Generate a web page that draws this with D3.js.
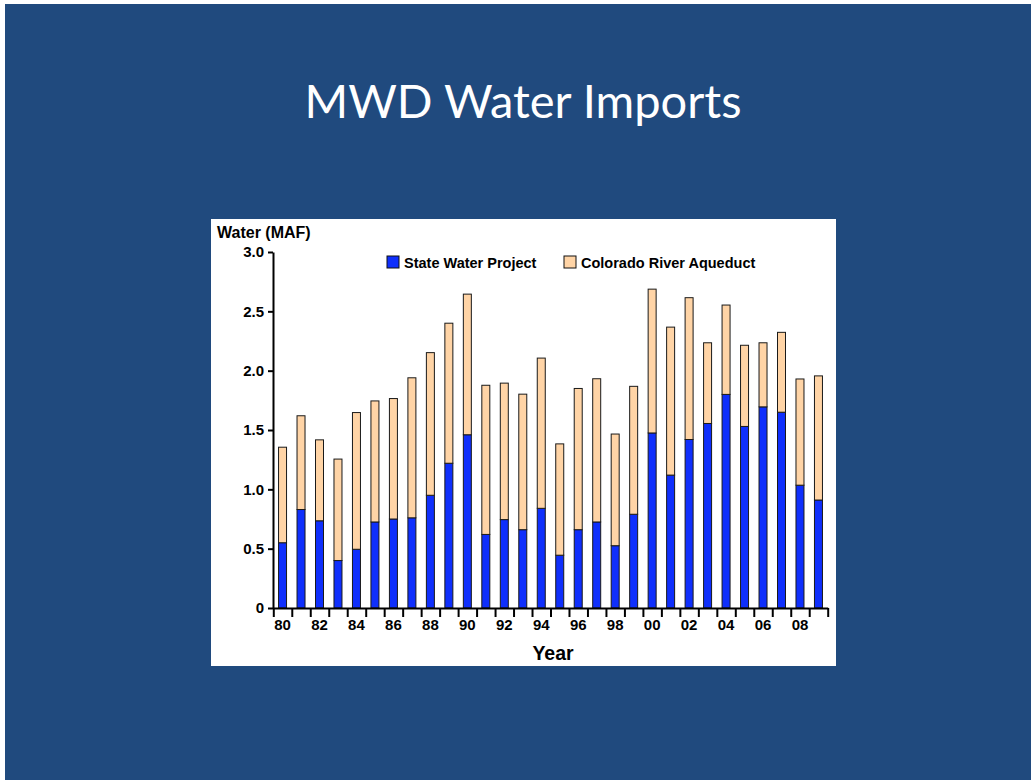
<!DOCTYPE html>
<html>
<head>
<meta charset="utf-8">
<script src="https://cdn.jsdelivr.net/npm/d3@7"></script>
<style>
  body { margin: 0; background: #fff; }
  svg { display: block; }
</style>
</head>
<body>
<div id="chart"></div>
<script>
// data (million acre-feet)
var years = d3.range(1980, 2010);
var swp = [0.55, 0.83, 0.735, 0.40, 0.495, 0.725, 0.75, 0.76, 0.95, 1.22,
           1.46, 0.62, 0.745, 0.66, 0.84, 0.445, 0.66, 0.725, 0.525, 0.79,
           1.475, 1.12, 1.42, 1.555, 1.80, 1.53, 1.695, 1.65, 1.035, 0.91];
var cra = [0.805, 0.79, 0.682, 0.855, 1.152, 1.02, 1.015, 1.18, 1.202, 1.18,
           1.185, 1.257, 1.15, 1.142, 1.266, 0.938, 1.19, 1.207, 0.941, 1.078,
           1.212, 1.247, 1.195, 0.68, 0.753, 0.684, 0.54, 0.673, 0.895, 1.046];
var seriesNames = ["State Water Project", "Colorado River Aqueduct"];
var yTicks = [0, 0.5, 1.0, 1.5, 2.0, 2.5, 3.0];

var colors = { "State Water Project": "#0f2ffc", "Colorado River Aqueduct": "#ffd4a6" };

var svgWidth = 1031;
var svgHeight = 780;

var svg = d3.select("#chart")
  .append("svg")
  .attr("width", svgWidth)
  .attr("height", svgHeight);

// slide background
svg.append("rect")
  .attr("x", 5).attr("y", 4)
  .attr("width", svgWidth - 5).attr("height", svgHeight - 4)
  .attr("fill", "#204a7e");

svg.append("text")
  .attr("x", 523).attr("y", 118)
  .attr("text-anchor", "middle")
  .attr("font-family", "Lato, 'Open Sans', sans-serif")
  .attr("font-size", 47)
  .attr("fill", "#fff")
  .text("MWD Water Imports");

// white chart panel
svg.append("rect")
  .attr("x", 211).attr("y", 219)
  .attr("width", 625).attr("height", 447)
  .attr("fill", "#fff");

var font = "'Liberation Sans', Arial, sans-serif";

var table = years.map(function(yr, i) {
  return { year: yr, "State Water Project": swp[i], "Colorado River Aqueduct": cra[i] };
});

var stacked = d3.stack().keys(seriesNames)(table);

var xBand = d3.scaleBand()
  .domain(years)
  .range([273.3, 827.7]);

var xEdge = d3.scaleLinear()
  .domain([1980, 2010])
  .range([273.3, 827.7]);

var yScale = d3.scaleLinear()
  .domain([0, 3])
  .range([608, 252]);

var barW = 8;

// bars
svg.append("g").selectAll("g")
  .data(stacked)
  .join("g")
  .attr("fill", function(d) { return colors[d.key]; })
  .selectAll("rect")
  .data(function(d) { return d; })
  .join("rect")
  .attr("x", function(d) { return xBand(d.data.year) + xBand.bandwidth() / 2 - barW / 2; })
  .attr("y", function(d) { return yScale(d[1]); })
  .attr("width", barW)
  .attr("height", function(d) { return yScale(d[0]) - yScale(d[1]); })
  .attr("stroke", "#1a1a1a")
  .attr("stroke-width", 1);

// y axis
var leftAxis = d3.axisLeft(yScale)
  .tickValues(yTicks)
  .tickSize(5)
  .tickSizeOuter(0)
  .tickPadding(4)
  .tickFormat(function(d) { return d === 0 ? "0" : d3.format(".1f")(d); });

var yAxisG = svg.append("g")
  .attr("transform", "translate(273,0)")
  .call(leftAxis);

// x axis: ticks on the year boundaries
var bottomAxis = d3.axisBottom(xEdge)
  .tickValues(d3.range(1980, 2011))
  .tickSize(9)
  .tickSizeOuter(0)
  .tickFormat("");

var xAxisG = svg.append("g")
  .attr("transform", "translate(0,608)")
  .call(bottomAxis);

// year labels at bar centres, every other year
var labelAxis = d3.axisBottom(xBand)
  .tickValues(years.filter(function(y) { return y % 2 === 0; }))
  .tickSize(0)
  .tickPadding(11)
  .tickFormat(function(d) { return d3.format("02")(d % 100); });

var xLabelG = svg.append("g")
  .attr("transform", "translate(0,608)")
  .call(labelAxis);
xLabelG.select(".domain").remove();

[yAxisG, xAxisG, xLabelG].forEach(function(g) {
  g.selectAll("path.domain").attr("stroke", "#000").attr("stroke-width", 2);
  g.selectAll(".tick line").attr("stroke", "#000").attr("stroke-width", 2);
  g.selectAll("text")
    .attr("font-family", font)
    .attr("font-weight", "bold")
    .attr("font-size", 15)
    .attr("fill", "#000");
});

// axis titles
svg.append("text")
  .attr("x", 217).attr("y", 238)
  .attr("font-family", font).attr("font-weight", "bold").attr("font-size", 16)
  .text("Water (MAF)");

svg.append("text")
  .attr("x", 553).attr("y", 660)
  .attr("text-anchor", "middle")
  .attr("font-family", font).attr("font-weight", "bold").attr("font-size", 19.5)
  .text("Year");

// legend
var legendX = [387, 564];
var legend = svg.append("g").selectAll("g")
  .data(seriesNames)
  .join("g")
  .attr("transform", function(d, i) { return "translate(" + legendX[i] + ",256)"; });

legend.append("rect")
  .attr("width", 12).attr("height", 12)
  .attr("fill", function(d) { return colors[d]; })
  .attr("stroke", "#111");

legend.append("text")
  .attr("x", 17).attr("y", 11.5)
  .attr("font-family", font).attr("font-weight", "bold").attr("font-size", 14.5)
  .text(function(d) { return d; });
</script>
</body>
</html>
